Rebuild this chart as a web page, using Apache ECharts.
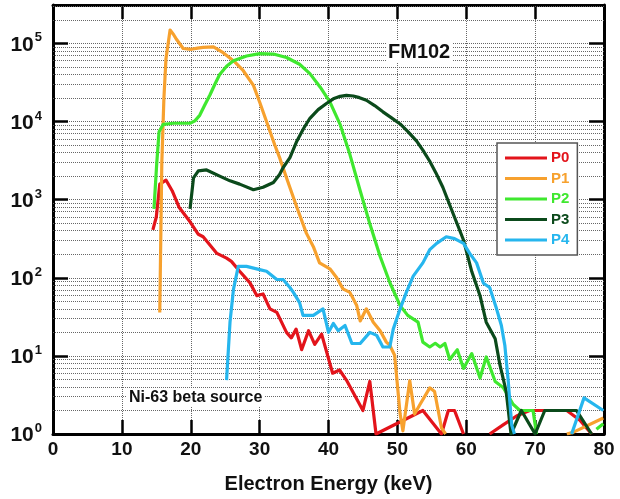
<!DOCTYPE html>
<html>
<head>
<meta charset="utf-8">
<script src="https://cdn.jsdelivr.net/npm/echarts@6/dist/echarts.min.js"></script>
<style>
html,body{margin:0;padding:0;background:#fff;}
#chart{width:620px;height:499px;}
</style>
</head>
<body>
<div id="chart"></div>
<script>
// ---- data (keV, counts) ----
const seriesNames = ['P0', 'P1', 'P2', 'P3', 'P4'];
const seriesColors = ['#e3141b', '#f7a12e', '#3fe82f', '#0b4a1b', '#26b6ee'];

const P0 = [[14.5,410],[15.0,600],[15.5,1580],[16.4,1780],[17.3,1300],[18.3,800],[19.9,520],[21.1,360],[21.8,335],[23.8,205],[25.2,178],[25.9,162],[27.1,121],[28.6,86],[29.6,59],[30.5,62],[31.5,40],[32.5,36],[33.9,20],[34.6,17],[35.3,22],[36.1,12],[37.1,21],[38.0,14],[39.0,19],[40.6,6],[41.6,6.6],[42.6,4.9],[45.0,2.0],[46.0,4.7],[46.9,1],[53.7,2],[56.4,1],[57.4,2],[58.3,2],[59.6,1],[61,'-'],[63.4,1],[65.3,1.3],[67.3,1.7],[69.2,2],[74.6,2],[76.5,1.5],[78.2,1]];

const P1 = [[15.5,36],[15.8,3000],[16.1,19600],[16.4,63000],[17.0,148000],[17.5,130000],[17.95,112000],[18.9,86000],[20.1,84000],[21.0,87000],[21.8,89000],[23.3,90000],[24.7,76000],[26.2,60000],[27.6,45000],[29.1,29000],[30.0,17800],[31.0,10000],[32.2,5000],[32.9,3450],[33.9,1900],[35.4,800],[36.8,370],[37.8,250],[38.7,155],[40.2,130],[41.2,100],[42.1,72],[43.1,65],[44.1,44],[44.6,28],[45.5,40],[46.5,27],[47.5,21],[48.4,15],[48.9,13.7],[49.6,10.2],[50.4,1.8],[50.8,1.1],[51.8,4.8],[52.5,1.8],[53.3,2.4],[54.7,3.9],[55.4,3.5],[56.4,1.2],[57.0,1],[60,'-'],[74.6,1],[75.5,1.05],[79.9,1.6]];

const P2 = [[14.66,760],[15.05,2800],[15.4,7400],[16.0,9200],[17.5,9500],[19.9,9500],[20.6,10200],[21.3,12000],[22.0,16000],[22.8,22000],[23.5,30000],[24.2,40000],[25.2,51000],[26.2,60000],[28.1,69000],[30.0,74000],[32.0,73000],[33.9,66000],[35.8,54000],[37.3,41000],[38.8,27500],[40.2,17800],[41.7,9100],[43.1,3800],[44.6,1300],[46.0,490],[47.5,187],[48.9,87],[50.4,44],[51.5,33],[53.0,27],[53.7,15],[54.7,13],[55.5,14.5],[56.2,13],[56.9,14.4],[57.6,9],[58.7,12],[59.6,6.9],[60.8,10.7],[62.0,5.2],[62.9,9.7],[64.2,4.7],[65.4,3.9],[66.8,2.4],[67.8,2],[69.7,2],[70.2,1],[72,'-'],[78.9,1.15],[79.9,1.35]];

const P3 = [[19.9,760],[20.4,1900],[21.1,2340],[22.3,2400],[24.2,2000],[25.7,1740],[27.1,1580],[29.1,1340],[30.5,1440],[32.0,1660],[32.9,2100],[33.4,2560],[34.4,3450],[35.4,5600],[36.4,8200],[37.3,11000],[38.5,14200],[39.7,17000],[40.7,19500],[41.7,21000],[42.6,21600],[43.6,21200],[44.5,20200],[45.5,18700],[46.7,16000],[47.9,13300],[49.1,11200],[50.4,9300],[51.6,7300],[52.8,5600],[53.7,4300],[54.7,3100],[55.6,2200],[56.6,1440],[58.1,660],[59.6,304],[60.8,120],[62.0,59],[62.9,27],[64.2,16.6],[64.9,7.6],[65.8,3.5],[66.5,1],[68.0,2],[70.0,1],[71.4,2],[76.0,2],[78.2,1]];

const P4 = [[25.2,4.9],[25.7,27],[26.2,71],[26.9,140],[28.1,140],[30.0,127],[31.0,121],[32.5,95],[33.4,95],[34.4,75],[34.9,65],[35.8,48],[36.3,33],[37.8,33],[39.2,40],[40.0,20],[40.7,26],[41.4,21],[42.4,24.5],[43.4,14.4],[44.6,14.4],[46.0,20],[47.0,18.3],[47.9,13],[48.9,13],[49.4,22],[50.4,40],[51.3,65],[52.3,105],[53.7,155],[54.7,229],[55.7,275],[57.1,335],[58.3,317],[59.6,275],[60.5,205],[61.5,155],[62.5,85],[63.4,75],[64.4,40],[65.1,24.5],[65.6,13.7],[66.1,4.7],[66.6,1.3],[67.0,1],[70,'-'],[75.3,1],[77.1,2.9],[79.9,2]];

const seriesData = [P0, P1, P2, P3, P4];

// axis ranges / ticks
const xMin = 0, xMax = 80, xStep = 10;
const yMin = 1, yMax = 310000;
const decades = [0, 1, 2, 3, 4, 5];
const minorMultipliers = [2, 3, 4, 5, 6, 7, 8, 9];

const xLabel = 'Electron Energy (keV)';
const plotTitle = 'FM102';
const noteText = 'Ni-63 beta source';

// ---- chart ----
const FONT = 'Liberation Sans, Arial, Helvetica, sans-serif';
const chart = echarts.init(document.getElementById('chart'), null, {renderer: 'canvas'});

const minorLines = [];
decades.forEach(d => minorMultipliers.forEach(m => {
  const v = m * Math.pow(10, d);
  if (v < yMax) minorLines.push({yAxis: v});
}));

const gridDash = {type: [1, 1], color: '#666', width: 1};

const series = seriesNames.map((n, i) => ({
  name: n,
  type: 'line',
  data: seriesData[i],
  showSymbol: false,
  symbol: 'none',
  smooth: false,
  connectNulls: false,
  clip: true,
  z: 5,
  lineStyle: {color: seriesColors[i], width: 3.2, join: 'round'},
  itemStyle: {color: seriesColors[i]}
}));

series.push({
  name: 'minorGrid',
  type: 'line',
  data: [],
  silent: true,
  z: 1,
  markLine: {
    silent: true,
    symbol: 'none',
    label: {show: false},
    animation: false,
    lineStyle: gridDash,
    data: minorLines
  }
});

const option = {
  animation: false,
  backgroundColor: '#fff',
  textStyle: {fontFamily: FONT},
  grid: {left: 53, right: 16, top: 5, bottom: 59},
  legend: {
    data: seriesNames.map((n, i) => ({name: n, textStyle: {color: seriesColors[i]}})),
    orient: 'vertical',
    left: 497,
    top: 143,
    icon: 'rect',
    itemWidth: 42,
    itemHeight: 3,
    itemGap: 4.5,
    padding: [7, 8, 7, 8],
    borderColor: '#555',
    borderWidth: 1.5,
    backgroundColor: '#fff',
    z: 10,
    textStyle: {fontFamily: FONT, fontWeight: 'bold', fontSize: 15, lineHeight: 16, padding: [0, 0, 0, -1]},
    selectedMode: false
  },
  xAxis: [{
    type: 'value', min: xMin, max: xMax, interval: xStep,
    position: 'bottom',
    name: xLabel, nameLocation: 'middle', nameGap: 40,
    nameTextStyle: {fontFamily: FONT, fontWeight: 'bold', fontSize: 20, color: '#111'},
    axisLine: {show: true, onZero: false, lineStyle: {color: '#000', width: 3}},
    axisTick: {show: true, inside: true, length: 14, lineStyle: {color: '#000', width: 2.5}},
    axisLabel: {fontFamily: FONT, fontWeight: 'bold', fontSize: 19, color: '#111', margin: 6},
    splitLine: {show: true, lineStyle: gridDash}
  }, {
    type: 'value', min: xMin, max: xMax, interval: xStep,
    position: 'top',
    axisLine: {show: true, onZero: false, lineStyle: {color: '#000', width: 3}},
    axisTick: {show: true, inside: true, length: 14, lineStyle: {color: '#000', width: 2.5}},
    axisLabel: {show: false},
    splitLine: {show: false}
  }],
  yAxis: [{
    type: 'log', logBase: 10, min: yMin, max: yMax,
    position: 'left',
    axisLine: {show: true, onZero: false, lineStyle: {color: '#000', width: 3}},
    axisTick: {show: true, inside: true, length: 15, lineStyle: {color: '#000', width: 2.5}},
    axisLabel: {
      margin: 11,
      formatter: function (v) {
        const e = Math.log10(v);
        if (Math.abs(e - Math.round(e)) > 1e-6) return '';
        return '{b|10}{s|' + Math.round(e) + '}';
      },
      rich: {
        b: {fontFamily: FONT, fontWeight: 'bold', fontSize: 21, color: '#111', verticalAlign: 'bottom', lineHeight: 24},
        s: {fontFamily: FONT, fontWeight: 'bold', fontSize: 13, color: '#111', verticalAlign: 'top', lineHeight: 24, padding: [0, 0, 0, 1]}
      }
    },
    splitLine: {show: true, lineStyle: gridDash}
  }, {
    type: 'log', logBase: 10, min: yMin, max: yMax,
    position: 'right',
    axisLine: {show: true, onZero: false, lineStyle: {color: '#000', width: 3}},
    axisTick: {show: true, inside: true, length: 15, lineStyle: {color: '#000', width: 2.5}},
    axisLabel: {show: false},
    splitLine: {show: false}
  }],
  graphic: [{
    type: 'text', left: 386, top: 41, z: 20,
    style: {text: plotTitle, font: 'bold 20px ' + FONT, fill: '#111', backgroundColor: '#fff', padding: [1, 2, 1, 2]}
  }, {
    type: 'text', left: 127, top: 389, z: 20,
    style: {text: noteText, font: 'bold 16px ' + FONT, fill: '#111', backgroundColor: '#fff', padding: [1, 2, 1, 2]}
  }],
  series: series
};

chart.setOption(option);
</script>
</body>
</html>
